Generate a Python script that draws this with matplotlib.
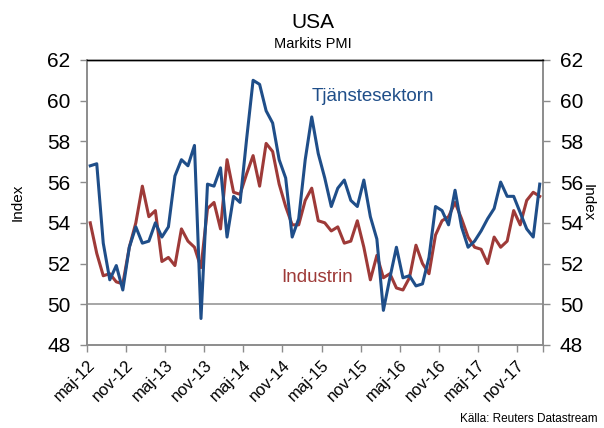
import matplotlib
matplotlib.use("Agg")
import matplotlib.pyplot as plt
import numpy as np

plt.rcParams["font.family"] = ["Liberation Sans", "DejaVu Sans"]

# Markit PMI, monthly maj-12 .. feb-18
tjanster = [56.8, 56.9, 53.0, 51.2, 51.9, 50.7, 52.8, 53.8, 53.0, 53.1, 54.0, 53.3,
            53.8, 56.3, 57.1, 56.8, 57.8, 49.3, 55.9, 55.8, 56.7, 53.3, 55.3, 55.0,
            58.1, 61.0, 60.8, 59.5, 58.9, 57.1, 56.2, 53.3, 54.2, 57.1, 59.2, 57.4,
            56.2, 54.8, 55.7, 56.1, 55.1, 54.8, 56.1, 54.3, 53.2, 49.7, 51.3, 52.8,
            51.3, 51.4, 50.9, 51.0, 52.3, 54.8, 54.6, 53.9, 55.6, 53.8, 52.8, 53.1,
            53.6, 54.2, 54.7, 56.0, 55.3, 55.3, 54.5, 53.7, 53.3, 55.9]
industri = [54.0, 52.5, 51.4, 51.5, 51.1, 51.0, 52.8, 54.0, 55.8, 54.3, 54.6, 52.1,
            52.3, 51.9, 53.7, 53.1, 52.8, 51.8, 54.7, 55.0, 53.7, 57.1, 55.5, 55.4,
            56.4, 57.3, 55.8, 57.9, 57.5, 55.9, 54.8, 53.9, 53.9, 55.1, 55.7, 54.1,
            54.0, 53.6, 53.8, 53.0, 53.1, 54.1, 52.8, 51.2, 52.4, 51.3, 51.5, 50.8,
            50.7, 51.3, 52.9, 52.0, 51.5, 53.4, 54.1, 54.3, 55.0, 54.2, 53.3, 52.8,
            52.7, 52.0, 53.3, 52.8, 53.1, 54.6, 53.9, 55.1, 55.5, 55.3]
tick_labels = ["maj-12", "nov-12", "maj-13", "nov-13", "maj-14", "nov-14",
               "maj-15", "nov-15", "maj-16", "nov-16", "maj-17", "nov-17"]

BLUE = "#1F4E89"; RED = "#9E3A38"; AX = "#8C8C8C"

fig = plt.figure(figsize=(6.04, 4.28), dpi=100)
ax = fig.add_axes([0.144, 0.194, 0.755, 0.666])
x = np.arange(len(tjanster))

ax.axhline(50, color="#A6A6A6", lw=1.4, zorder=1)
ax.plot(x, industri, color=RED, lw=2.2, zorder=3)
ax.plot(x, tjanster, color=BLUE, lw=2.2, zorder=4)

ax.set_xlim(-0.5, len(x) - 0.5)
ax.set_ylim(48, 62)
ax.set_yticks(range(48, 63, 2))
ax.set_xticks(np.arange(-0.5, len(x), 6))
ax.set_xticklabels(tick_labels, rotation=45, ha="right", rotation_mode="anchor", fontsize=12)
ax.set_xticks([len(x) - 0.5], minor=True)
ax.set_ylabel("Index", fontsize=11, labelpad=16)

# right-hand axis, same scale
ax2 = ax.twinx()
ax2.set_ylim(48, 62)
ax2.set_yticks(range(48, 63, 2))
ax2.set_ylabel("Index", fontsize=11, rotation=270, labelpad=8)

for a in (ax, ax2):
    for s in ("left", "bottom", "right"):
        a.spines[s].set_color(AX)
        a.spines[s].set_linewidth(1.2)
    a.spines["top"].set_color("black")
    a.spines["top"].set_linewidth(1.0)
    a.tick_params(axis="both", which="both", direction="out", color=AX, length=5, width=1.0)
    a.tick_params(axis="y", labelsize=15, pad=7)
ax.tick_params(axis="x", pad=4)

ax.text(34, 60.0, "Tjänstesektorn", color=BLUE, fontsize=13.5)
ax.text(29.3, 51.1, "Industrin", color=RED, fontsize=13.5)

fig.text(0.518, 0.935, "USA", ha="center", fontsize=15)
fig.text(0.518, 0.887, "Markits PMI", ha="center", fontsize=10.5)
fig.text(0.99, 0.008, "Källa: Reuters Datastream", ha="right", va="bottom", fontsize=8.5)

fig.savefig("out.png", dpi=100)
